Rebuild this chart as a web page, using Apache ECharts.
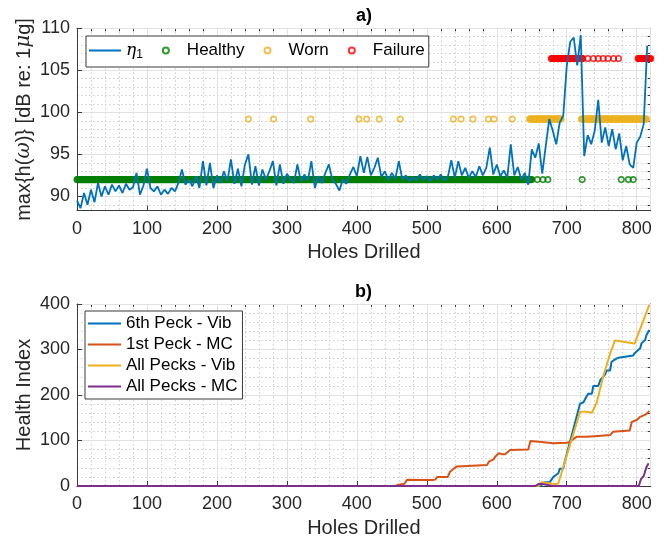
<!DOCTYPE html>
<html>
<head>
<meta charset="utf-8">
<title>Health index</title>
<script src="https://cdn.jsdelivr.net/npm/echarts@6/dist/echarts.min.js"></script>
<style>
  html, body { margin: 0; padding: 0; background: #fff; }
  #chart { width: 667px; height: 542px; }
</style>
</head>
<body>
<div id="chart"></div>
<script>
// ---- values ----
// a) eta1, sampled every 5 holes starting at hole 0
const eta1Step = 5;
const eta1Values = [
  89.5, 88.6, 90.4, 89.0, 90.8, 89.3, 91.6, 90.0, 91.2, 90.2,
  91.4, 90.6, 91.3, 90.4, 91.5, 90.8, 91.1, 92.8, 90.2, 91.3,
  93.3, 91.0, 90.6, 91.2, 90.2, 90.8, 90.3, 91.0, 90.6, 91.6,
  93.2, 91.4, 92.0, 91.2, 92.4, 91.0, 94.2, 91.3, 94.0, 91.0,
  92.5, 91.6, 93.0, 91.8, 94.4, 91.5, 93.3, 91.2, 93.8, 95.0,
  91.4, 93.6, 91.3, 93.2, 92.0, 93.0, 94.2, 91.3, 93.8, 91.5,
  92.7, 92.1, 91.6, 93.8, 91.8, 92.6, 91.9, 94.2, 91.0, 92.4,
  91.6, 92.8, 93.8, 92.0, 91.5, 90.7, 92.0, 91.5, 92.6, 93.5,
  92.4, 94.8, 92.8, 94.7, 92.5, 93.4, 94.6, 92.3, 93.0, 91.9,
  92.8, 92.1, 94.2, 92.0, 92.5, 91.8, 92.3, 91.9, 92.6, 92.0,
  92.4, 91.8, 92.5, 92.0, 92.6, 91.9, 92.3, 94.3, 92.2, 94.2,
  92.5, 93.4, 92.2, 93.0, 92.3, 93.6, 92.5, 93.4, 95.8, 92.6,
  93.8, 92.4, 93.1, 92.2, 96.2, 92.5, 93.5, 92.0, 92.8, 91.4,
  95.6, 94.6, 96.3, 92.7, 96.0, 99.2, 97.8, 96.2, 98.8, 99.6,
  105.5, 108.4, 108.9, 105.6, 109.2, 94.8, 97.3, 96.2, 97.8, 101.5,
  96.4, 98.2, 96.0, 98.0, 95.6, 97.5, 94.3, 96.0, 93.8, 93.4,
  96.4, 97.1, 98.6, 107.9
];

// a) condition labels: level of the marker row, dense hole ranges, single holes
const healthyLevel = 92;
const healthyRanges = [[0, 650]];
const healthyHoles = [658, 666, 673, 722, 778, 788, 795];
const wornLevel = 99.2;
const wornRanges = [[647, 692], [721, 814]];
const wornHoles = [245, 281, 334, 403, 414, 432, 462, 538, 549, 566, 588, 596, 622];
const failureLevel = 106.4;
const failureRanges = [[678, 723], [802, 820]];
const failureHoles = [730, 738, 745, 752, 759, 767, 774];

// b) health index curves (hole, value)
const vib6Holes = [0, 662, 668, 676, 681, 688, 690, 695, 697, 719, 724, 728, 731, 736, 738, 745,
  748, 752, 755, 757, 762, 764, 771, 774, 795, 797, 805, 807, 812, 814, 818];
const vib6Values = [0, 0, 8, 9, 20, 28, 38, 38, 53, 181, 184, 196, 203, 203, 220, 220,
  233, 240, 246, 254, 254, 273, 280, 282, 287, 292, 303, 314, 321, 332, 343];
const mc1Holes = [0, 455, 460, 468, 472, 500, 508, 512, 515, 530, 533, 540, 543, 586, 589, 595,
  598, 603, 607, 612, 619, 645, 648, 660, 681, 700, 705, 710, 714, 728, 745, 762, 766, 790,
  793, 800, 805, 814, 818];
const mc1Values = [0, 0, 3, 5, 14, 13, 13, 14, 20, 20, 31, 40, 43, 46, 54, 58,
  65, 72, 70, 70, 79, 80, 99, 97, 94, 95, 97, 104, 108, 108, 110, 112, 119, 122,
  141, 145, 152, 158, 165];
const allVibHoles = [0, 660, 664, 685, 688, 719, 728, 736, 743, 752, 762, 769, 797, 818];
const allVibValues = [0, 0, 8, 4, 6, 163, 163, 161, 184, 240, 291, 320, 313, 398];
const allMcHoles = [0, 655, 661, 667, 680, 803, 806, 810, 814, 817];
const allMcValues = [0, 0, 5, 4, 0, 0, 15, 22, 42, 50];

// tick labels
const topYTicks = [90, 95, 100, 105, 110];
const topYMinorTicks = [];
for (let v = 89; v <= 110; v++) topYMinorTicks.push(v);

// ---- styling ----
const FONT = '"Liberation Sans", Arial, Helvetica, sans-serif';
const TEX = '"DejaVu Serif", serif';
const AXIS = '#3a3a3a';
const TEXT = '#262626';
const MAJOR = '#e2e2e2';
const MINOR = '#cdcdcd';
const C = {
  blue: '#0072BD', orange: '#D95319', yellow: '#EDB120', purple: '#7E2F8E',
  green: '#008000', red: '#FF0000'
};
// plain line sample for legend entries of line series (no marker)
const LINE_ICON = 'path://M0,0H32V2H0Z';

function zipPairs(xs, ys) {
  return xs.map((x, i) => [x, ys[i]]);
}
function classPoints(ranges, holes, level) {
  const pts = [];
  ranges.forEach(([a, b]) => {
    for (let h = a; h <= b; h++) pts.push([h, level]);
  });
  holes.forEach(h => pts.push([h, level]));
  return pts;
}
const eta1Data = eta1Values.map((v, i) => [i * eta1Step, v]);

function majorX(grid) {
  return {
    type: 'value', gridIndex: grid, position: 'bottom', min: 0, max: 820, interval: 100, z: 1,
    name: 'Holes Drilled', nameLocation: 'middle', nameGap: 32,
    nameTextStyle: { fontSize: 20, color: TEXT, fontFamily: FONT },
    axisLine: { show: true, onZero: false, lineStyle: { color: AXIS, width: 1 } },
    axisTick: { show: true, inside: true, length: 5, lineStyle: { color: AXIS } },
    axisLabel: { fontSize: 18, color: TEXT, fontFamily: FONT, margin: 9, showMaxLabel: false },
    splitLine: { show: true, lineStyle: { color: MAJOR, width: 1 } }
  };
}
function minorX(grid) {
  return {
    type: 'value', gridIndex: grid, position: 'top', min: 0, max: 820, interval: 20,
    axisLine: { show: true, onZero: false, lineStyle: { color: AXIS, width: 1 } },
    axisTick: { show: true, inside: true, length: 3, lineStyle: { color: AXIS } },
    axisLabel: { show: false },
    splitLine: { show: true, lineStyle: { color: MINOR, width: 1, type: [1.5, 2.5] } }
  };
}

const option = {
  animation: false,
  backgroundColor: '#fff',
  title: [
    { text: 'a)', left: 356, top: 7, padding: 0,
      textStyle: { fontSize: 18, fontWeight: 'bold', color: '#000', fontFamily: FONT } },
    { text: 'b)', left: 355, top: 283, padding: 0,
      textStyle: { fontSize: 18, fontWeight: 'bold', color: '#000', fontFamily: FONT } }
  ],
  grid: [
    { left: 77, top: 28.3, width: 573.7, height: 182.4 },
    { left: 77, top: 304, width: 573.7, height: 182 }
  ],
  legend: [
    {
      data: [{ name: 'η1', icon: LINE_ICON }, 'Healthy', 'Worn', 'Failure'],
      orient: 'horizontal', left: 86, top: 36, padding: [6, 4, 6, 3],
      itemGap: 19, itemWidth: 32, itemHeight: 6,
      borderColor: AXIS, borderWidth: 1, backgroundColor: '#fff',
      selectedMode: false,
      formatter: name => name === 'η1' ? '{e|η}{s|1}' : name,
      textStyle: {
        fontSize: 17, color: '#000', fontFamily: FONT,
        rich: {
          e: { fontSize: 17, fontFamily: TEX, fontStyle: 'italic', color: '#000', lineHeight: 21, verticalAlign: 'middle' },
          s: { fontSize: 12, fontFamily: FONT, color: '#000', lineHeight: 12, verticalAlign: 'bottom' }
        }
      }
    },
    {
      data: [
        { name: '6th Peck - Vib', icon: LINE_ICON },
        { name: '1st Peck - MC', icon: LINE_ICON },
        { name: 'All Pecks - Vib', icon: LINE_ICON },
        { name: 'All Pecks - MC', icon: LINE_ICON }
      ],
      orient: 'vertical', left: 85, top: 311, padding: [4, 5, 4, 3],
      itemGap: 4, itemWidth: 33, itemHeight: 14,
      borderColor: AXIS, borderWidth: 1, backgroundColor: '#fff',
      selectedMode: false,
      textStyle: { fontSize: 17, color: '#000', fontFamily: FONT, lineHeight: 17 }
    }
  ],
  xAxis: [majorX(0), minorX(0), majorX(1), minorX(1)],
  yAxis: [
    {
      type: 'value', gridIndex: 0, position: 'left', min: 88.3, max: 110, z: 1,
      name: 'max{h({w|ω})} [dB re: 1{w|μ}g]', nameLocation: 'middle', nameRotate: 90,
      nameGap: 43, nameMoveOverlap: false,
      nameTextStyle: {
        fontSize: 20, color: TEXT, fontFamily: FONT,
        rich: { w: { fontSize: 20, fontFamily: TEX, fontStyle: 'italic', color: TEXT } }
      },
      axisLine: { show: true, onZero: false, lineStyle: { color: AXIS, width: 1 } },
      axisTick: { show: true, inside: true, length: 5, customValues: topYTicks, lineStyle: { color: AXIS } },
      axisLabel: { fontSize: 18, color: TEXT, fontFamily: FONT, margin: 7, customValues: topYTicks },
      splitLine: { show: true, lineStyle: { color: MAJOR, width: 1 } }
    },
    {
      type: 'value', gridIndex: 0, position: 'right', min: 88.3, max: 110,
      axisLine: { show: true, onZero: false, lineStyle: { color: AXIS, width: 1 } },
      axisTick: { show: true, inside: true, length: 3, customValues: topYMinorTicks, lineStyle: { color: AXIS } },
      axisLabel: { show: false },
      splitLine: { show: true, lineStyle: { color: MINOR, width: 1, type: [1.5, 2.5] } }
    },
    {
      type: 'value', gridIndex: 1, position: 'left', min: 0, max: 400, interval: 100, z: 1,
      name: 'Health Index', nameLocation: 'middle', nameRotate: 90,
      nameGap: 43, nameMoveOverlap: false,
      nameTextStyle: { fontSize: 20, color: TEXT, fontFamily: FONT },
      axisLine: { show: true, onZero: false, lineStyle: { color: AXIS, width: 1 } },
      axisTick: { show: true, inside: true, length: 5, lineStyle: { color: AXIS } },
      axisLabel: { fontSize: 18, color: TEXT, fontFamily: FONT, margin: 7 },
      splitLine: { show: true, lineStyle: { color: MAJOR, width: 1 } }
    },
    {
      type: 'value', gridIndex: 1, position: 'right', min: 0, max: 400, interval: 20,
      axisLine: { show: true, onZero: false, lineStyle: { color: AXIS, width: 1 } },
      axisTick: { show: true, inside: true, length: 3, lineStyle: { color: AXIS } },
      axisLabel: { show: false },
      splitLine: { show: true, lineStyle: { color: MINOR, width: 1, type: [1.5, 2.5] } }
    }
  ],
  series: [
    {
      name: 'η1', type: 'line', xAxisIndex: 0, yAxisIndex: 0, data: eta1Data,
      symbol: 'none', lineStyle: { color: C.blue, width: 1.8 }, itemStyle: { color: C.blue }
    },
    {
      name: 'Healthy', type: 'scatter', xAxisIndex: 0, yAxisIndex: 0,
      data: classPoints(healthyRanges, healthyHoles, healthyLevel),
      symbol: 'circle', symbolSize: 5.5,
      itemStyle: { color: 'rgba(0,0,0,0)', borderColor: C.green, borderWidth: 1.6 }
    },
    {
      name: 'Worn', type: 'scatter', xAxisIndex: 0, yAxisIndex: 0,
      data: classPoints(wornRanges, wornHoles, wornLevel),
      symbol: 'circle', symbolSize: 5.5,
      itemStyle: { color: 'rgba(0,0,0,0)', borderColor: C.yellow, borderWidth: 1.6 }
    },
    {
      name: 'Failure', type: 'scatter', xAxisIndex: 0, yAxisIndex: 0,
      data: classPoints(failureRanges, failureHoles, failureLevel),
      symbol: 'circle', symbolSize: 5.5,
      itemStyle: { color: 'rgba(0,0,0,0)', borderColor: C.red, borderWidth: 1.6 }
    },
    {
      name: '6th Peck - Vib', type: 'line', xAxisIndex: 2, yAxisIndex: 2,
      data: zipPairs(vib6Holes, vib6Values), symbol: 'none',
      lineStyle: { color: C.blue, width: 2 }, itemStyle: { color: C.blue }
    },
    {
      name: '1st Peck - MC', type: 'line', xAxisIndex: 2, yAxisIndex: 2,
      data: zipPairs(mc1Holes, mc1Values), symbol: 'none',
      lineStyle: { color: C.orange, width: 2 }, itemStyle: { color: C.orange }
    },
    {
      name: 'All Pecks - Vib', type: 'line', xAxisIndex: 2, yAxisIndex: 2,
      data: zipPairs(allVibHoles, allVibValues), symbol: 'none',
      lineStyle: { color: C.yellow, width: 2 }, itemStyle: { color: C.yellow }
    },
    {
      name: 'All Pecks - MC', type: 'line', xAxisIndex: 2, yAxisIndex: 2,
      data: zipPairs(allMcHoles, allMcValues), symbol: 'none',
      lineStyle: { color: C.purple, width: 2 }, itemStyle: { color: C.purple }
    }
  ]
};

const chart = echarts.init(document.getElementById('chart'), null, { renderer: 'canvas' });
chart.setOption(option);
</script>
</body>
</html>
